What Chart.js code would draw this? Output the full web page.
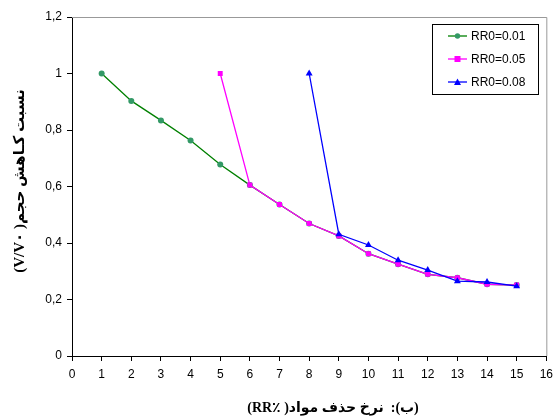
<!DOCTYPE html>
<html>
<head>
<meta charset="utf-8">
<script src="https://cdn.jsdelivr.net/npm/chart.js@4/dist/chart.umd.min.js"></script>
<style>
html,body{margin:0;padding:0;background:#fff;}
#wrap{width:559px;height:418px;}
</style>
</head>
<body>
<div id="wrap"><canvas id="c" width="559" height="418"></canvas></div>
<script>
const xValues = [1,2,3,4,5,6,7,8,9,10,11,12,13,14,15];
const rr001 = [1.00,0.903,0.834,0.763,0.678,0.605,0.536,0.469,0.425,0.362,0.325,0.289,0.277,0.254,0.251];
const rr005X = [5,6,7,8,9,10,11,12,13,14,15];
const rr005 = [1.00,0.605,0.536,0.469,0.425,0.362,0.325,0.289,0.277,0.254,0.251];
const rr008X = [8,9,10,11,12,13,14,15];
const rr008 = [1.00,0.431,0.393,0.339,0.304,0.265,0.262,0.247];
const seriesNames = ['RR0=0.01','RR0=0.05','RR0=0.08'];
const yTickLabels = ['0','0,2','0,4','0,6','0,8','1','1,2'];
const xTitle = '(ب):  نرخ حذف مواد( ٪RR)';
const yTitle = 'نسبت کـاهش حجم( V/V۰)';

const pts = (xs, ys) => xs.map((x,i)=>({x:x,y:ys[i]}));

const styles = [
  {line:'#008000', fill:'#339966', shape:'circle', r:3},
  {line:'#FF00FF', fill:'#FF00FF', shape:'rect', r:3.5},
  {line:'#0000FF', fill:'#0000FF', shape:'triangle', r:4}
];

const legendPlugin = {
  id:'customLegend',
  afterDraw(chart){
    const ctx = chart.ctx;
    ctx.save();
    const bx=432, by=24, bw=106, bh=70;
    ctx.fillStyle='#fff';
    ctx.fillRect(bx,by,bw,bh);
    ctx.strokeStyle='#000'; ctx.lineWidth=1;
    ctx.strokeRect(bx+0.5,by+0.5,bw,bh);
    const rows=[36,59,82];
    ctx.font='12px "Liberation Sans", Arial, sans-serif';
    ctx.textBaseline='middle'; ctx.textAlign='left';
    rows.forEach((y,i)=>{
      const s=styles[i];
      ctx.strokeStyle=s.line; ctx.lineWidth=1.3;
      ctx.beginPath(); ctx.moveTo(448,y); ctx.lineTo(467,y); ctx.stroke();
      ctx.fillStyle=s.fill;
      const cx=457.5;
      if(s.shape==='circle'){ctx.beginPath();ctx.arc(cx,y,2.7,0,Math.PI*2);ctx.fill();}
      else if(s.shape==='rect'){ctx.fillRect(cx-3,y-3,6,6);}
      else {ctx.beginPath();ctx.moveTo(cx,y-3.5);ctx.lineTo(cx+3.5,y+3);ctx.lineTo(cx-3.5,y+3);ctx.closePath();ctx.fill();}
      ctx.fillStyle='#000';
      ctx.fillText(seriesNames[i],471,y+1);
    });
    ctx.restore();
  }
};

const framePlugin = {
  id:'frame',
  beforeDatasetsDraw(chart){
    const a=chart.chartArea, ctx=chart.ctx;
    ctx.save();
    ctx.strokeStyle='#999'; ctx.lineWidth=1;
    ctx.beginPath();
    ctx.moveTo(a.left, a.top+0.5); ctx.lineTo(a.right+0.5, a.top+0.5); ctx.lineTo(a.right+0.5, a.bottom);
    ctx.stroke();
    ctx.restore();
  }
};

const titlePlugin = {
  id:'axisTitles',
  afterDraw(chart){
    const ctx=chart.ctx;
    ctx.save();
    ctx.fillStyle='#000';
    ctx.direction='rtl';
    ctx.textAlign='center'; ctx.textBaseline='middle';
    ctx.font='bold 14px "Liberation Serif", "DejaVu Sans", serif';
    ctx.fillText(xTitle, 333, 408);
    ctx.font='bold 15px "Liberation Serif", "DejaVu Sans", serif';
    ctx.translate(20, 181);
    ctx.rotate(-Math.PI/2);
    ctx.fillText(yTitle, 0, 0);
    ctx.restore();
  }
};

new Chart(document.getElementById('c'), {
  type:'scatter',
  data:{datasets:[
    {label:seriesNames[0], data:pts(xValues, rr001), showLine:true, borderColor:styles[0].line, backgroundColor:styles[0].fill, pointBackgroundColor:styles[0].fill, pointBorderWidth:0, borderWidth:1.3, pointStyle:'circle', pointRadius:3, order:3},
    {label:seriesNames[1], data:pts(rr005X, rr005), showLine:true, borderColor:styles[1].line, backgroundColor:styles[1].fill, pointBackgroundColor:styles[1].fill, pointBorderWidth:0, borderWidth:1.3, pointStyle:'rect', pointRadius:3.5, order:2},
    {label:seriesNames[2], data:pts(rr008X, rr008), showLine:true, borderColor:styles[2].line, backgroundColor:styles[2].fill, pointBackgroundColor:styles[2].fill, pointBorderWidth:0, borderWidth:1.3, pointStyle:'triangle', pointRadius:4, order:1}
  ]},
  options:{
    responsive:false, animation:false, devicePixelRatio:1,
    layout:{padding:{left:0,right:10,top:17,bottom:0}},
    plugins:{legend:{display:false}, tooltip:{enabled:false}},
    scales:{
      x:{type:'linear', min:0, max:16,
        ticks:{stepSize:1, color:'#000', font:{family:'"Liberation Sans", Arial', size:12}, padding:6, maxRotation:0},
        grid:{display:true, drawOnChartArea:false, drawTicks:true, tickLength:5, color:'#000'},
        border:{color:'#000', width:1},
        afterFit(s){s.height=62;}
      },
      y:{type:'linear', min:0, max:1.2,
        ticks:{stepSize:0.2, color:'#000', font:{family:'"Liberation Sans", Arial', size:12}, padding:5,
          callback:(v)=>{const i=Math.round(v/0.2); return yTickLabels[i];}},
        grid:{display:true, drawOnChartArea:false, drawTicks:true, tickLength:5, color:'#000'},
        border:{color:'#000', width:1},
        afterFit(s){s.width=72;}
      }
    }
  },
  plugins:[framePlugin, legendPlugin, titlePlugin]
});
</script>
</body>
</html>
